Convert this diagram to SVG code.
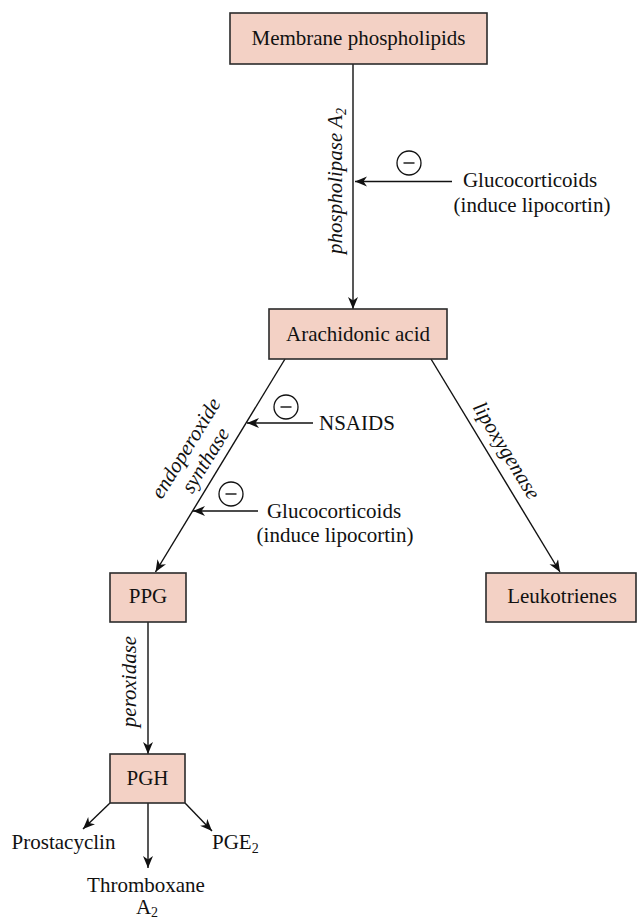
<svg xmlns="http://www.w3.org/2000/svg" width="638" height="922" viewBox="0 0 638 922">
<defs>
<style>
.box{fill:#F3D1C5;stroke:#2b2b2b;stroke-width:1.6}
.t{font-family:"Liberation Serif","Times New Roman",serif;font-size:21px;fill:#111}
.i{font-family:"Liberation Serif","Times New Roman",serif;font-size:21px;font-style:italic;fill:#111}
.c{text-anchor:middle}
.ln{stroke:#111;stroke-width:1.4;fill:none}
.ar{marker-end:url(#ah)}
.inh{fill:#fff;stroke:#111;stroke-width:1.3}
</style>
<marker id="ah" markerUnits="userSpaceOnUse" markerWidth="14" markerHeight="12" refX="12" refY="5" orient="auto">
<path d="M0,0 L12,5 L0,10 L3.5,5 z" fill="#111"/>
</marker>
</defs>
<rect width="638" height="922" fill="#fff"/>
<g id="connectors">
<line class="ln ar" x1="353" y1="64" x2="353" y2="309"/>
<line class="ln ar" x1="452" y1="181.5" x2="355" y2="181.5"/>
<line class="ln ar" x1="285" y1="359" x2="155.5" y2="572"/>
<line class="ln ar" x1="313" y1="423" x2="247" y2="423"/>
<line class="ln ar" x1="258" y1="511" x2="193" y2="511"/>
<line class="ln ar" x1="431" y1="359" x2="560" y2="572"/>
<line class="ln ar" x1="148" y1="622" x2="148" y2="754"/>
<line class="ln ar" x1="110" y1="803" x2="83" y2="829"/>
<line class="ln ar" x1="148" y1="803" x2="148" y2="868"/>
<line class="ln ar" x1="185" y1="803" x2="212" y2="831"/>
</g>
<g id="inhibitors">
<g id="inh1"><circle class="inh" cx="409" cy="163" r="12"/><line class="ln" x1="403.5" y1="163" x2="414.5" y2="163"/></g>
<g id="inh2"><circle class="inh" cx="286" cy="407" r="12"/><line class="ln" x1="280.5" y1="407" x2="291.5" y2="407"/></g>
<g id="inh3"><circle class="inh" cx="231" cy="494" r="12"/><line class="ln" x1="225.5" y1="494" x2="236.5" y2="494"/></g>
</g>
<g id="membrane"><rect class="box" x="230" y="13" width="257" height="51"/><text class="t c" x="358.5" y="45">Membrane phospholipids</text></g>
<g id="arachidonic"><rect class="box" x="269" y="309" width="178" height="50"/><text class="t c" x="358" y="341">Arachidonic acid</text></g>
<g id="ppg"><rect class="box" x="110" y="573" width="76" height="49"/><text class="t c" x="148" y="603">PPG</text></g>
<g id="leukotrienes"><rect class="box" x="486" y="573" width="150" height="49"/><text class="t c" x="562" y="603">Leukotrienes</text></g>
<g id="pgh"><rect class="box" x="110" y="754" width="75" height="49"/><text class="t c" x="147.5" y="785">PGH</text></g>
<g id="gluco1"><text class="t c" x="530" y="187">Glucocorticoids</text><text class="t c" x="532" y="212">(induce lipocortin)</text></g>
<g id="nsaids"><text class="t" x="319" y="430">NSAIDS</text></g>
<g id="gluco2"><text class="t c" x="334" y="518">Glucocorticoids</text><text class="t c" x="335" y="542">(induce lipocortin)</text></g>
<g id="labels">
<text class="i c" transform="translate(342,181) rotate(-90)">phospholipase A<tspan font-size="14" dy="4">2</tspan></text>
<g transform="translate(285,359) rotate(-58.4)">
<text class="i c" x="-128" y="-31">endoperoxide</text>
<text class="i c" x="-128" y="-8">synthase</text>
</g>
<text class="i c" transform="translate(431,359) rotate(58.6)" x="117.5" y="-10">lipoxygenase</text>
<text class="i c" transform="translate(136,681.5) rotate(-90)">peroxidase</text>
</g>
<g id="products">
<text class="t c" x="63.5" y="849">Prostacyclin</text>
<text class="t" x="212" y="849">PGE<tspan font-size="14" dy="4">2</tspan></text>
<text class="t c" x="146" y="892">Thromboxane</text>
<text class="t c" x="147" y="914">A<tspan font-size="14" dy="3">2</tspan></text>
</g>
</svg>
